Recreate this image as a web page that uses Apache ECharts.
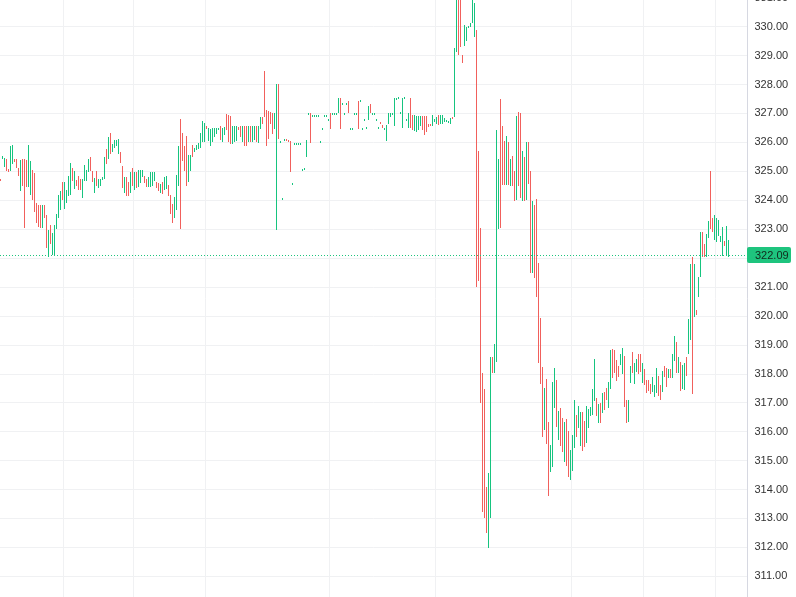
<!DOCTYPE html>
<html><head><meta charset="utf-8">
<script src="https://cdn.jsdelivr.net/npm/echarts@6/dist/echarts.min.js"></script>
<style>html,body{margin:0;padding:0;background:#fff;overflow:hidden}#c{width:796px;height:597px}</style>
</head><body><div id="c"></div>
<script>
const highs = [
324.73,325.52,325.47,325.42,325.09,325.87,325.90,325.41,325.41,325.10,
325.39,325.42,325.41,325.39,325.90,325.35,325.04,324.95,323.89,323.83,
323.83,323.83,323.83,323.48,322.97,323.14,322.87,323.14,323.52,324.18,
324.31,324.64,324.64,324.35,324.83,325.29,325.10,325.02,324.69,324.83,
324.72,324.73,325.21,325.04,325.42,325.48,325.00,324.77,325.00,324.75,
324.75,324.79,325.48,325.77,326.17,326.31,325.93,326.08,326.08,326.13,
325.67,325.18,324.79,324.81,324.64,324.98,325.10,324.96,324.98,325.04,
325.04,325.04,324.83,324.73,324.81,324.96,324.98,324.98,324.64,324.58,
324.55,324.64,324.79,324.83,324.52,324.18,323.87,324.12,324.87,325.88,
326.80,326.33,325.87,326.21,325.56,325.56,325.90,325.82,325.90,325.98,
326.33,326.73,326.68,326.56,326.51,326.45,326.48,326.50,326.50,326.48,
326.56,326.48,326.54,326.98,326.94,326.91,326.56,326.56,326.56,326.54,
326.56,326.56,326.56,326.56,326.56,326.56,326.56,326.56,326.56,326.56,
326.88,326.88,328.46,327.11,327.09,327.06,327.00,327.02,328.01,328.01,
326.05,324.06,326.13,326.10,326.08,326.05,324.59,325.99,325.99,325.99,
325.99,325.07,325.13,326.08,327.03,327.00,326.94,326.94,326.94,326.94,
326.05,326.51,326.94,326.94,326.82,327.00,327.03,327.03,327.03,327.55,
327.55,327.35,327.03,327.35,327.42,326.51,326.51,327.03,327.03,327.42,
327.45,326.51,326.82,326.54,327.25,327.32,327.03,327.03,326.80,326.54,
326.71,326.59,326.51,326.59,327.00,327.00,327.03,327.52,327.55,327.58,
327.06,327.55,327.58,326.80,327.00,327.55,326.94,326.94,326.91,326.91,
326.91,326.91,326.91,326.91,326.63,326.63,326.94,326.79,326.88,326.94,
326.94,326.94,326.85,326.76,326.74,326.83,326.88,329.25,331.20,331.10,
331.00,329.01,330.05,329.99,330.02,330.13,331.00,330.82,329.88,325.70,
323.04,318.02,317.47,314.09,314.57,318.59,318.59,319.03,326.42,325.42,
327.49,326.56,326.04,326.21,326.01,325.41,325.52,325.01,326.91,327.06,
327.00,325.70,325.48,326.02,326.02,325.01,323.97,323.83,324.04,321.83,
319.93,318.24,317.51,317.81,316.34,315.53,317.72,318.21,317.78,316.72,
316.80,316.46,316.34,316.43,316.03,315.36,315.88,317.09,316.57,316.88,
316.69,316.69,316.37,316.88,316.77,316.84,317.49,318.51,317.15,316.95,
317.00,317.34,317.38,317.52,317.72,318.82,318.85,318.82,318.47,318.26,
318.70,318.88,318.61,317.11,317.11,318.27,318.74,318.36,318.51,318.68,
318.70,318.36,318.15,317.78,317.80,317.63,317.90,317.61,318.21,317.93,
317.61,318.09,318.26,318.21,318.18,318.18,318.68,319.30,319.11,318.59,
318.41,318.30,318.36,318.59,319.88,321.79,322.04,321.81,320.22,321.35,
322.91,322.91,322.50,322.83,323.28,325.00,323.37,323.48,323.37,323.33,
322.76,323.08,322.60,323.10,322.62
];
const lows = [
324.70,325.41,325.16,325.00,324.98,325.02,325.24,325.31,325.10,324.83,
324.33,324.49,323.05,324.44,324.44,324.18,324.00,323.60,323.22,323.08,
323.05,323.05,323.37,322.36,322.02,322.48,322.10,322.10,323.02,323.40,
323.66,324.00,323.69,323.89,324.15,324.18,324.66,324.37,324.50,324.35,
324.35,324.08,324.66,324.66,324.98,325.00,324.64,324.26,324.50,324.43,
324.50,324.69,324.72,325.25,325.44,325.59,325.65,325.79,325.88,325.59,
325.27,324.43,324.26,324.15,324.15,324.26,324.49,324.35,324.41,324.46,
324.58,324.79,324.61,324.44,324.44,324.44,324.49,324.66,324.43,324.33,
324.26,324.20,324.35,324.37,324.15,323.54,323.20,323.37,323.66,324.49,
323.02,325.35,325.02,324.49,324.64,325.02,325.50,325.67,325.73,325.76,
325.79,326.02,326.02,326.46,326.04,325.87,326.02,326.17,326.28,326.42,
326.08,326.02,326.25,326.42,326.02,325.94,325.96,326.02,326.04,326.42,
326.19,326.02,325.87,325.87,326.02,326.02,326.02,326.08,326.02,325.98,
326.46,326.62,326.88,325.87,326.11,326.65,326.28,326.45,322.97,326.11,
325.99,324.00,326.07,326.05,326.02,324.98,324.53,325.93,325.93,325.93,
325.93,325.01,325.07,325.50,326.97,325.98,326.88,326.88,326.88,326.88,
325.99,326.45,326.88,326.88,326.76,326.46,326.97,326.97,326.97,327.00,
326.46,327.29,326.97,327.29,327.00,326.45,326.45,326.97,326.97,326.46,
327.39,326.45,326.76,326.48,326.77,327.00,326.97,326.97,326.74,326.48,
326.62,326.50,326.45,326.04,326.65,326.88,326.97,326.56,327.49,327.52,
327.00,326.48,327.52,326.74,326.48,326.48,326.42,326.39,326.37,326.42,
326.56,326.42,326.25,326.37,326.54,326.56,326.56,326.71,326.65,326.59,
326.62,326.62,326.71,326.70,326.68,326.62,326.85,326.86,329.13,329.01,
329.30,328.75,329.33,329.51,329.97,329.99,330.11,329.65,321.01,321.20,
317.00,313.23,313.01,312.49,311.98,313.02,318.01,318.01,318.41,323.00,
323.05,324.52,324.52,324.52,324.52,324.50,324.50,323.98,324.00,324.50,
324.08,323.98,323.98,324.00,324.56,321.48,321.48,321.32,320.66,318.38,
317.63,315.82,316.05,315.56,313.78,314.61,314.78,316.82,316.17,315.71,
315.50,315.30,314.96,314.81,314.42,314.33,314.65,315.42,315.82,316.11,
315.50,315.34,315.47,315.61,316.11,316.54,316.57,317.05,316.54,316.31,
316.31,316.63,316.74,317.09,316.82,317.49,317.86,318.03,317.75,317.90,
318.30,317.98,316.86,316.31,316.34,317.67,318.01,317.64,318.07,317.98,
318.07,317.67,317.61,317.32,317.41,317.30,317.38,317.20,317.35,317.23,
317.09,317.38,317.90,317.55,317.86,317.87,317.86,318.45,318.01,318.01,
317.41,317.49,317.43,317.92,318.70,319.16,317.29,319.97,320.03,320.64,
321.35,322.02,322.04,322.02,322.68,323.02,322.91,322.62,322.56,322.76,
322.56,322.07,322.41,322.10,322.04
];
// G = bar closed higher (green), R = closed lower (red)
const directions =
"RGGRRGGRRR"+"GRRRGGRRRR"+"RGRRGRGGGG"+"GRGGGGRGRR"+"RGGGGRRGRG"+
"GGGRGRGGGG"+"RRGRRGRGRG"+"GGRRGGGGRR"+"GRGGRRRGGG"+"RRRRGGRGGG"+
"GGGRGGGGGG"+"RGGRRRGGGR"+"RGRRGRGGRG"+"GRRRRRRGGR"+"GGGRRRGGGG"+
"GGGGGRGGGG"+"GGGGGRGGGG"+"RGGGRGGGGR"+"GGGGGRGGGG"+"RRGGGGGGGG"+
"GGGGGRRGGG"+"GRRRRRGGGR"+"GGGGGGRGGR"+"RRGGGGGGRR"+"RRRRGGRGGG"+
"RRRGRGRRGR"+"RGRGRRGRRR"+"RRGRRGGGRG"+"RRGRRGGGRG"+"GRRGGGGGRG"+
"RGRRGGRRRR"+"GGRRGGRGGR"+"RGRRRRGGGR"+"RGRRGRGGRG"+"RGGRGGRGRG"+
"GRRGGRRGGG"+"GGRGG";
const lastPrice = 322.09;
const priceMin = 310, priceMax = 331, priceStep = 1;
const slotCount = 374;               // bar slots on the time axis (incl. right padding)
const gridSlots = [32, 67, 103, 165, 218, 286, 322, 358]; // vertical grid positions

const UP = '#16c47f', DOWN = '#f1605c', TAG = '#1ec47e';

const categories = [];
for (let i = 0; i < slotCount; i++) categories.push(String(i + 1));
const bars = highs.map((h, i) => [i, h, lows[i], directions[i] === 'G' ? 1 : 0]);

function renderBar(params, api) {
  const idx = api.value(0);
  const top = api.coord([idx, api.value(1)]);
  const bot = api.coord([idx, api.value(2)]);
  const x = Math.round(top[0] - 0.5);
  let y0 = Math.round(top[1]);
  let y1 = Math.round(bot[1]);
  if (y1 - y0 < 2) { const m = (y0 + y1) / 2; y0 = Math.round(m - 1); y1 = y0 + 2; }
  return {
    type: 'rect',
    shape: {x: x, y: y0, width: 1, height: y1 - y0},
    style: {fill: api.value(3) ? UP : DOWN}
  };
}

function renderPriceLine(params, api) {
  const cs = params.coordSys;
  const p = api.coord([0, api.value(0)]);
  const y = Math.floor(p[1]) + 0.5;
  const right = cs.x + cs.width;
  const boxX = Math.floor(right);
  return {
    type: 'group',
    children: [
      {type: 'line', shape: {x1: 0, y1: y, x2: right, y2: y},
        style: {stroke: '#1ec47e', lineWidth: 1, lineDash: [1, 2]}},
      {type: 'rect', shape: {x: boxX, y: Math.round(y - 8.5), width: 44, height: 16, r: 2},
        style: {fill: TAG}},
      {type: 'text', x: boxX + 8, y: y + 0.5,
        style: {text: api.value(0).toFixed(2), fill: '#112a1c', fontSize: 11,
          fontFamily: 'Liberation Sans, Arial, sans-serif', verticalAlign: 'middle', align: 'left'}}
    ]
  };
}

const chart = echarts.init(document.getElementById('c'), null, {renderer: 'canvas'});
chart.setOption({
  animation: false,
  backgroundColor: '#ffffff',
  grid: {left: -0.5, width: 748, top: -2.3, bottom: -8.2, containLabel: false, outerBoundsMode: 'none'},
  xAxis: {
    type: 'category', data: categories, boundaryGap: true,
    axisLine: {show: false}, axisTick: {show: false}, axisLabel: {show: false},
    splitLine: {show: true, interval: (idx) => gridSlots.indexOf(idx) >= 0,
      lineStyle: {color: '#f0f1f3', width: 1}}
  },
  yAxis: {
    type: 'value', position: 'right', scale: true,
    min: priceMin, max: priceMax, interval: priceStep,
    axisLine: {show: true, lineStyle: {color: '#d6d8e1', width: 1}},
    axisTick: {show: false},
    axisLabel: {color: '#333333', fontSize: 11, margin: 7, fontFamily: 'Liberation Sans, Arial, sans-serif',
      formatter: (v) => v.toFixed(2)},
    splitLine: {show: true, lineStyle: {color: '#f0f1f3', width: 1}}
  },
  series: [{
    type: 'custom',
    renderItem: renderBar,
    data: bars,
    encode: {x: 0, y: [1, 2]},
    clip: false,
    silent: true
  }, {
    type: 'custom',
    renderItem: renderPriceLine,
    data: [[lastPrice]],
    encode: {y: 0},
    clip: false,
    silent: true,
    z: 5
  }]
});
</script></body></html>
